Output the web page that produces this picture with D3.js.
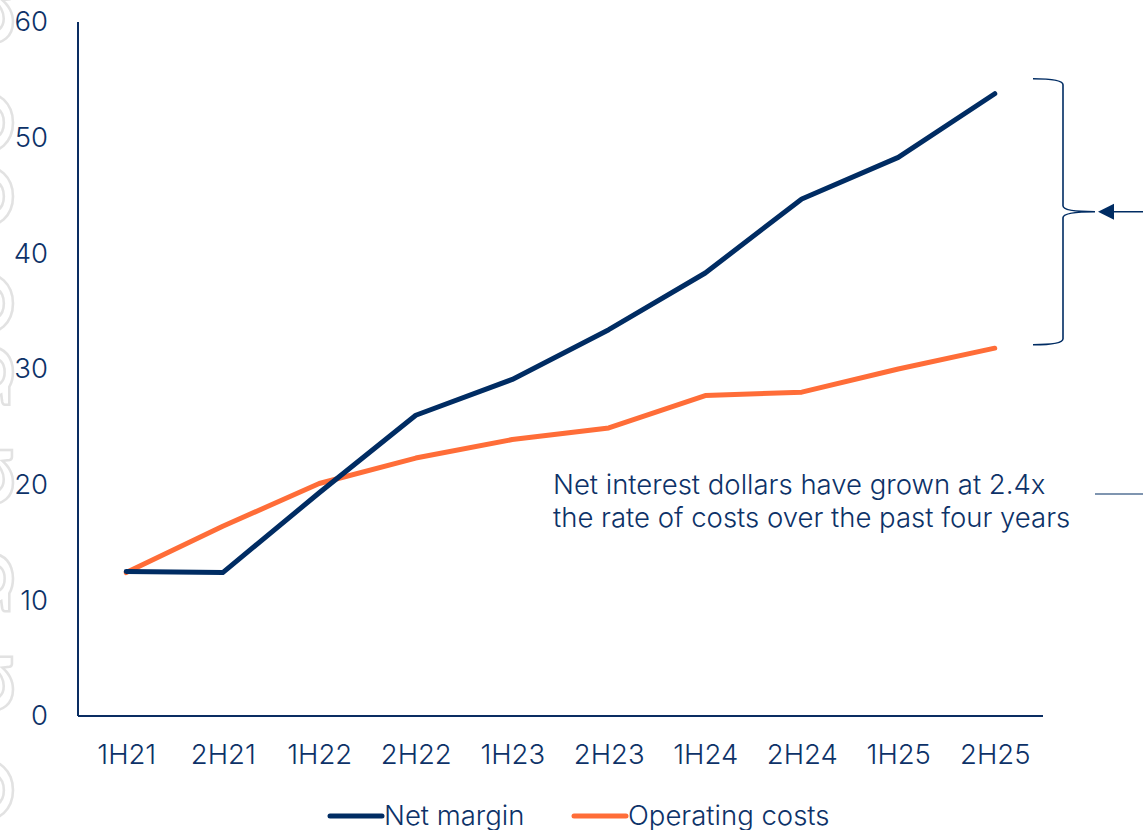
<!DOCTYPE html>
<html>
<head>
<meta charset="utf-8">
<script src="https://cdn.jsdelivr.net/npm/d3@7"></script>
<style>
  body { margin: 0; background: #fff; }
  svg { display: block; }
  .axis text, .note { fill: #0d3268; font-family: Inter, "Noto Sans", sans-serif; font-size: 27.5px; font-weight: 300; letter-spacing: 0px; }
  .axis path, .axis line { stroke: #0a2d62; stroke-width: 2; }
</style>
</head>
<body>
<div class="container"></div>
<script>
var periods = ["1H21", "2H21", "1H22", "2H22", "1H23", "2H23", "1H24", "2H24", "1H25", "2H25"];
var netMargin = [12.5, 12.4, 19.3, 26.0, 29.1, 33.4, 38.3, 44.7, 48.3, 53.8];
var opCosts = [12.4, 16.4, 20.1, 22.3, 23.9, 24.9, 27.7, 28.0, 30.0, 31.8];
var yTicks = [0, 10, 20, 30, 40, 50, 60];
var seriesNames = ["Net margin", "Operating costs"];
var noteLines = ["Net interest dollars have grown at 2.4x", "the rate of costs over the past four years"];
var bracketRange = [55.1, 32.1];

var navy = "#002c63";
var orange = "#ff6d38";

var margin = {top: 22, right: 100, bottom: 114, left: 78};
var width = 1143 - margin.left - margin.right;
var height = 830 - margin.top - margin.bottom;

var svg = d3.select(".container")
    .append("svg")
    .attr("width", 1143)
    .attr("height", 830);

// faint watermark on the left edge
svg.append("text")
    .attr("transform", "translate(-54,-20) rotate(90)")
    .attr("font-size", 130)
    .attr("font-family", "Lato, sans-serif")
    .attr("fill", "none")
    .attr("stroke", "#e2e2e2")
    .attr("stroke-width", 2.5)
    .text("n oo og n g n oo");

var g = svg.append("g")
    .attr("transform", "translate(" + margin.left + "," + margin.top + ")");

var x = d3.scalePoint().domain(periods).range([0, width]).padding(0.5);
var y = d3.scaleLinear().domain([0, 60]).range([height, 0]);

var line = d3.line()
    .x(function(d, i) { return x(periods[i]); })
    .y(function(d) { return y(d); });

// y axis
var yAxis = g.append("g")
    .attr("class", "axis")
    .call(d3.axisLeft(y).tickValues(yTicks).tickSize(0).tickPadding(30));
yAxis.select(".domain").attr("d", "M0," + (height) + "V0");

// x axis
var xAxis = g.append("g")
    .attr("class", "axis")
    .attr("transform", "translate(0," + height + ")")
    .call(d3.axisBottom(x).tickSize(0).tickPadding(28));
xAxis.select(".domain").attr("d", "M0,0H" + width);

g.append("path")
    .datum(opCosts)
    .attr("fill", "none")
    .attr("stroke", orange)
    .attr("stroke-width", 5)
    .attr("stroke-linecap", "round")
    .attr("stroke-linejoin", "round")
    .attr("d", line);

g.append("path")
    .datum(netMargin)
    .attr("fill", "none")
    .attr("stroke", navy)
    .attr("stroke-width", 5)
    .attr("stroke-linecap", "round")
    .attr("stroke-linejoin", "round")
    .attr("d", line);

// note text
var note = g.append("text")
    .attr("class", "note")
    .attr("x", 475)
    .attr("y", 472);
note.selectAll("tspan")
    .data(noteLines)
    .enter().append("tspan")
    .attr("x", 475)
    .attr("dy", function(d, i) { return i ? 33 : 0; })
    .text(function(d) { return d; });

// curly bracket and arrow
var bTop = y(bracketRange[0]), bBot = y(bracketRange[1]), bMid = (bTop + bBot) / 2;
var bx = 985, r = 6;
g.append("path")
    .attr("fill", "none")
    .attr("stroke", navy)
    .attr("stroke-width", 1.6)
    .attr("d",
      "M" + (bx - 30) + "," + bTop +
      " Q" + bx + "," + bTop + " " + bx + "," + (bTop + r) +
      " V" + (bMid - r) +
      " Q" + bx + "," + bMid + " " + (bx + 32) + "," + bMid +
      " Q" + bx + "," + bMid + " " + bx + "," + (bMid + r) +
      " V" + (bBot - r) +
      " Q" + bx + "," + bBot + " " + (bx - 30) + "," + bBot);

g.append("path")
    .attr("fill", navy)
    .attr("d", "M" + (bx + 35) + "," + bMid + " L" + (bx + 51) + "," + (bMid - 8) + " L" + (bx + 51) + "," + (bMid + 8) + " Z");
g.append("line")
    .attr("x1", bx + 50).attr("x2", 1070)
    .attr("y1", bMid).attr("y2", bMid)
    .attr("stroke", navy).attr("stroke-width", 1.6);

g.append("line")
    .attr("x1", 1017).attr("x2", 1070)
    .attr("y1", 472).attr("y2", 472)
    .attr("stroke", navy).attr("stroke-width", 1.2);

// legend
var legend = svg.append("g").attr("transform", "translate(0,816)");
var legendX = [330, 574];
var legendColors = [navy, orange];
seriesNames.forEach(function(name, i) {
  legend.append("line")
      .attr("x1", legendX[i]).attr("x2", legendX[i] + 52)
      .attr("y1", 0).attr("y2", 0)
      .attr("stroke", legendColors[i])
      .attr("stroke-width", 5)
      .attr("stroke-linecap", "round");
  legend.append("text")
      .attr("class", "note")
      .attr("x", legendX[i] + 54)
      .attr("y", 9)
      .text(name);
});
</script>
</body>
</html>
